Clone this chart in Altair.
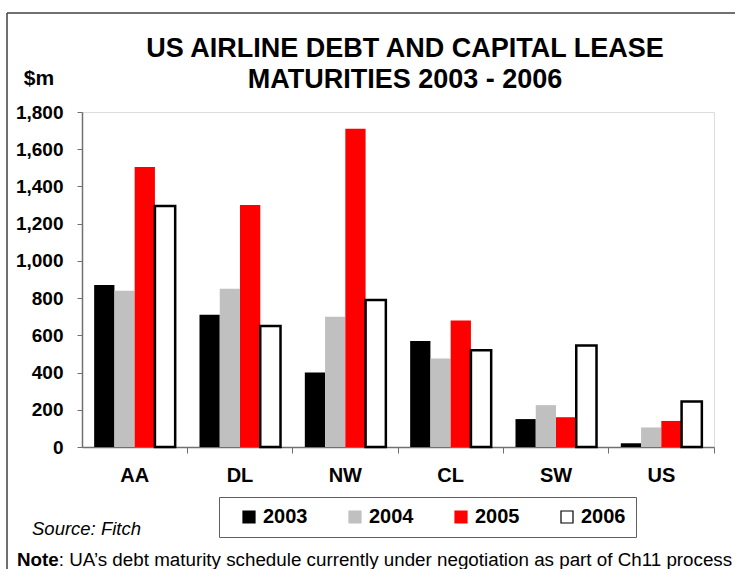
import altair as alt
import pandas as pd

carriers = ["AA", "DL", "NW", "CL", "SW", "US"]
years = ["2003", "2004", "2005", "2006"]
v2003 = [870, 710, 400, 570, 150, 20]
v2004 = [840, 850, 700, 475, 225, 105]
v2005 = [1505, 1300, 1710, 680, 160, 140]
v2006 = [1295, 650, 790, 520, 545, 245]
y_ticks = [0, 200, 400, 600, 800, 1000, 1200, 1400, 1600, 1800]

title_lines = ["US AIRLINE DEBT AND CAPITAL LEASE", "MATURITIES 2003 - 2006"]
unit_label = ["$m"]
source_text = ["Source: Fitch"]
note_bold = ["Note"]
note_rest = [": UA\u2019s debt maturity schedule currently under negotiation as part of Ch11 process"]

series = {"2003": v2003, "2004": v2004, "2005": v2005, "2006": v2006}
rows = []
for yr in years:
    for c, v in zip(carriers, series[yr]):
        rows.append({"carrier": c, "year": yr, "value": v})
df = pd.DataFrame(rows)

FONT = "Liberation Sans"

legend_def = alt.Legend(title=None, orient="none", legendX=137, legendY=385,
                        direction="horizontal", symbolType="square", symbolSize=144,
                        symbolStrokeWidth=1.2, symbolOffset=10,
                        labelFont=FONT, labelFontSize=20, labelFontWeight="bold",
                        labelColor="black", labelOffset=4, columnPadding=27,
                        strokeColor="#606060", padding=10, fillColor="white")

bars = alt.Chart(df).mark_bar(strokeJoin="miter").encode(
    x=alt.X("carrier:N", sort=carriers, title=None,
            scale=alt.Scale(paddingInner=0, paddingOuter=0),
            axis=alt.Axis(labelAngle=0, labelFont=FONT, labelFontSize=20, labelFontWeight="bold",
                          labelColor="black", labelPadding=12, tickSize=6, bandPosition=1,
                          tickColor="#707070", domainColor="#707070", domainWidth=1.5)),
    xOffset=alt.XOffset("year:N", sort=years,
                        scale=alt.Scale(paddingOuter=0.6, paddingInner=0)),
    y=alt.Y("value:Q", title=None,
            scale=alt.Scale(domain=[0, 1800], nice=False),
            axis=alt.Axis(values=y_ticks, format=",d", labelFont=FONT, labelFontSize=19,
                          labelFontWeight="bold", labelColor="black", labelPadding=14,
                          tickSize=5, grid=False, tickColor="#707070", domainColor="#707070",
                          domainWidth=1.5)),
    color=alt.Color("year:N", sort=years,
                    scale=alt.Scale(domain=years, range=["#000000", "#c0c0c0", "#ff0000", "#ffffff"]),
                    legend=legend_def),
    stroke=alt.Stroke("year:N", sort=years,
                      scale=alt.Scale(domain=years, range=["#000000", "#c0c0c0", "#ff0000", "#000000"]),
                      legend=legend_def),
    strokeWidth=alt.condition(alt.datum.year == "2006", alt.value(2.5), alt.value(0)),
)

one = pd.DataFrame({"k": [0]})

title = alt.Chart(pd.DataFrame({"t": ["\n".join(title_lines)]})).mark_text(
    font=FONT, fontSize=27, fontWeight="bold", align="center", baseline="alphabetic",
    color="black", lineBreak="\n", lineHeight=31
).encode(x=alt.value(323), y=alt.value(-55), text="t:N")

unit = alt.Chart(pd.DataFrame({"t": unit_label})).mark_text(
    font=FONT, fontSize=21, fontWeight="bold", align="center", baseline="alphabetic", color="black"
).encode(x=alt.value(-43), y=alt.value(-27), text="t:N")

source = alt.Chart(pd.DataFrame({"t": source_text})).mark_text(
    font=FONT, fontSize=18.5, fontStyle="italic", align="left", baseline="alphabetic", color="black"
).encode(x=alt.value(-50), y=alt.value(423), text="t:N")

note1 = alt.Chart(pd.DataFrame({"t": note_bold})).mark_text(
    font=FONT, fontSize=18.8, fontWeight="bold", align="left", baseline="alphabetic", color="black"
).encode(x=alt.value(-65), y=alt.value(454), text="t:N")

note2 = alt.Chart(pd.DataFrame({"t": note_rest})).mark_text(
    font=FONT, fontSize=18.8, align="left", baseline="alphabetic", color="black"
).encode(x=alt.value(-23.2), y=alt.value(454), text="t:N")

frame_left = alt.Chart(one).mark_rule(color="#404040", strokeWidth=1.5).encode(
    x=alt.value(-75), y=alt.value(-99), y2=alt.value(460))
frame_top = alt.Chart(one).mark_rule(color="#404040", strokeWidth=1.5).encode(
    x=alt.value(-75), x2=alt.value(660), y=alt.value(-99))

chart = alt.layer(frame_left, frame_top, bars, title, unit, source, note1, note2).properties(
    width=632, height=335,
    autosize=alt.AutoSizeParams(type="none"),
    padding={"left": 82, "top": 112, "right": 21, "bottom": 122},
).configure_view(stroke=None).configure(background="white")

chart.save("out.html", embed_options={"renderer": "svg", "actions": False})
